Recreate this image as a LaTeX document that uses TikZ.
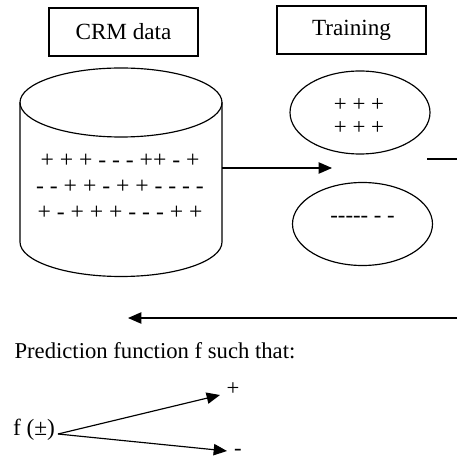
\documentclass[tikz,border=0pt]{standalone}
\usepackage{fontspec}
\setmainfont{Liberation Serif}
\usetikzlibrary{arrows.meta,shapes.geometric}
\begin{document}
\begin{tikzpicture}[x=0.6pt,y=-0.6pt,
  font=\fontsize{13.6}{16}\selectfont,
  line width=0.7pt,
  titlebox/.style={draw, minimum width=89.4pt, minimum height=28.8pt, inner sep=0pt, font=\fontsize{13.9}{16}\selectfont},
  oval/.style={draw, ellipse, minimum width=84pt, minimum height=49.8pt, inner sep=0pt},
  tip/.style={-{Triangle[length=8pt,width=6.8pt]}},
  txt/.style={inner sep=0pt, align=center}]
\useasboundingbox (0,0) rectangle (457,459);
% title boxes
\node[titlebox] (crm) at (123.5,32) {CRM data};
\node[titlebox] (train) at (351.5,30) {Training};
% cylinder
\draw (121,102.5) ellipse [x radius=60.6pt, y radius=20.7pt];
\draw (20,102.5) -- (20,242) arc[start angle=180, end angle=360, x radius=60.6pt, y radius=20.7pt] -- (222,102.5);
\node[txt, font=\fontsize{14.2}{15.6}\selectfont] (data) at (120,186.5) {+ + + -{} -{} - ++ - +\\-{} - + + - + + -{} -{} -{} -\\+ - + + + -{} -{} - + +};
\coordinate (cylE) at (222,168);
\coordinate (mid) at (332,168);
% training ovals
\node[oval] (pos) at (360,112.5) {};
\node[oval] (neg) at (362.5,224) {};
\node[txt, font=\fontsize{13.7}{13.8}\selectfont] (postxt) at (359,116.5) {+ + +\\+ + +};
\node[txt] (negtxt) at (362.5,219) {-{}-{}-{}-{}- -{} -};
% connectors
\draw[tip] (cylE) -- (mid);
\coordinate (outA) at (427,159);
\coordinate (outB) at (457,159);
\draw (outA) -- (outB);
\coordinate (backA) at (457,318);
\coordinate (backB) at (128,318);
\draw[tip] (backA) -- (backB);
% prediction
\node[anchor=base west, inner sep=0pt] (pred) at (14,358) {Prediction function f such that:};
\node[inner sep=0pt, font=\fontsize{14}{16}\selectfont] (f) at (34,430) {f (±)};
\coordinate (fo) at (58,434);
\coordinate (pt) at (220,395);
\coordinate (mt) at (227,451);
\draw[tip] (fo) -- (pt);
\draw[tip] (fo) -- (mt);
\node[inner sep=0pt] (plus) at (233,389) {+};
\node[inner sep=0pt] (minus) at (238,452) {-};
\end{tikzpicture}
\end{document}
